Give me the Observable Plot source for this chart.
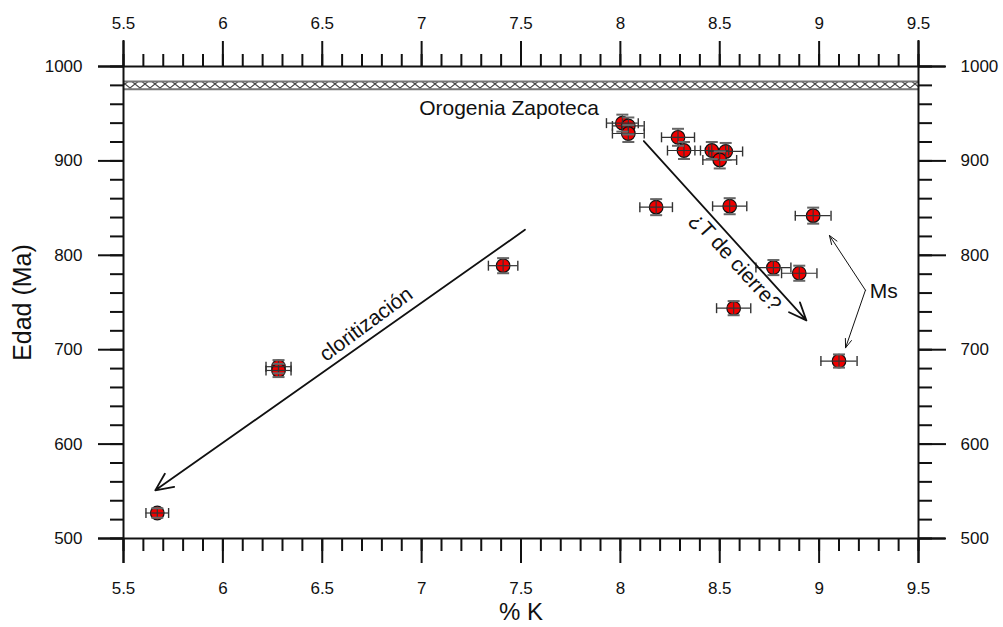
<!DOCTYPE html>
<html>
<head>
<meta charset="utf-8">
<script src="https://cdn.jsdelivr.net/npm/d3@7"></script>
<script src="https://cdn.jsdelivr.net/npm/@observablehq/plot@0.6"></script>
<style>
  html, body { margin: 0; padding: 0; background: #fff; }
  #chart svg { display: block; }
</style>
</head>
<body>
<div id="chart"></div>
<script>
// ---- data ----
const potassium = [5.67, 6.28, 6.28, 7.41, 8.01, 8.04, 8.04, 8.29, 8.32, 8.46, 8.53, 8.50, 8.18, 8.55, 8.97, 8.77, 8.90, 8.57, 9.10];
const edad      = [527, 682, 678, 789, 940, 937, 929, 925, 911, 911, 910, 901, 851, 852, 842, 787, 781, 744, 688];
const potErr    = [0.057, 0.063, 0.063, 0.074, 0.080, 0.080, 0.080, 0.083, 0.083, 0.085, 0.085, 0.085, 0.082, 0.086, 0.090, 0.088, 0.089, 0.086, 0.091];
const edadErr   = [5, 7, 7, 8, 9, 9, 9, 9, 9, 9, 9, 9, 8.5, 8.5, 8.5, 8, 8, 7.5, 7];

const xTicks = [5.5, 6, 6.5, 7, 7.5, 8, 8.5, 9, 9.5];
const yTicks = [500, 600, 700, 800, 900, 1000];
const xMinor = d3.range(55, 96).map(d => d / 10);
const yMinor = d3.range(500, 1001, 20);

const band = [{y1: 976, y2: 984}];

const labels = [
  {x: 7.44, y: 956, t: "Orogenia Zapoteca", r: 0},
  {x: 6.72, y: 727, t: "cloritización", r: -36.5},
  {x: 8.58, y: 793, t: "¿T de cierre?", r: 48},
  {x: 9.325, y: 762, t: "Ms", r: 0}
];
const arrowClor  = [{x1: 7.52, y1: 827, x2: 5.66, y2: 551}];
const arrowCierre = [{x1: 8.118, y1: 921, x2: 8.936, y2: 731}];
const arrowMs = [
  {x1: 9.233, y1: 763, x2: 9.052, y2: 821},
  {x1: 9.233, y1: 763, x2: 9.133, y2: 702}
];

const rows = potassium.map((k, i) => ({k, age: edad[i], ex: potErr[i], ey: edadErr[i]}));

const vbar = {draw(ctx, size) { const r = Math.sqrt(size / Math.PI); ctx.moveTo(0, -r); ctx.lineTo(0, r); }};
const hbar = {draw(ctx, size) { const r = Math.sqrt(size / Math.PI); ctx.moveTo(-r, 0); ctx.lineTo(r, 0); }};

const defsMark = () => {
  const g = d3.create("svg:g");
  const p = g.append("defs").append("pattern")
    .attr("id", "hatch").attr("patternUnits", "userSpaceOnUse")
    .attr("width", 10).attr("height", 8).attr("y", 0);
  p.append("rect").attr("width", 10).attr("height", 8).attr("fill", "#fff");
  p.append("path").attr("d", "M0,0L10,8M10,0L0,8")
    .attr("stroke", "#444").attr("stroke-width", 1.1).attr("fill", "none");
  return g.node();
};

const font = "'Liberation Sans', Arial, Helvetica, sans-serif";

const chart = Plot.plot({
  width: 1003,
  height: 627,
  marginLeft: 123,
  marginRight: 85,
  marginTop: 66,
  marginBottom: 89,
  style: {fontFamily: font, fontSize: "17px", background: "#fff", color: "#111"},
  x: {domain: [5.5, 9.5]},
  y: {domain: [500, 1000]},
  marks: [
    defsMark,
    // hatched band
    Plot.rect(band, {y1: "y1", y2: "y2", fill: "url(#hatch)"}),
    Plot.ruleY([band[0].y1, band[0].y2], {stroke: "#777", strokeWidth: 2}),
    // minor ticks
    Plot.axisX(xMinor, {anchor: "bottom", tickSize: 13, tickFormat: () => "", strokeWidth: 2, label: null}),
    Plot.axisX(xMinor, {anchor: "top", tickSize: 13, tickFormat: () => "", strokeWidth: 2, label: null}),
    Plot.axisY(yMinor, {anchor: "left", tickSize: 13, tickFormat: () => "", strokeWidth: 2, label: null}),
    Plot.axisY(yMinor, {anchor: "right", tickSize: 13, tickFormat: () => "", strokeWidth: 2, label: null}),
    // major ticks
    Plot.axisX(xTicks, {anchor: "bottom", tickSize: 25, tickPadding: 18, tickFormat: d => String(d), fontSize: 17, strokeWidth: 2, label: null}),
    Plot.axisX(xTicks, {anchor: "top", tickSize: 26, tickPadding: 12, tickFormat: d => String(d), fontSize: 17, strokeWidth: 2, label: null}),
    Plot.axisY(yTicks, {anchor: "left", tickSize: 25, tickPadding: 16, tickFormat: d => String(d), fontSize: 17, strokeWidth: 2, label: null}),
    Plot.axisY(yTicks, {anchor: "right", tickSize: 27, tickPadding: 15, tickFormat: d => String(d), fontSize: 17, strokeWidth: 2, label: null}),
    // axis lines extended
    Plot.ruleY([500, 1000], {insetLeft: -25, insetRight: -27, strokeWidth: 2, stroke: "#111"}),
    Plot.ruleX([5.5, 9.5], {insetTop: -26, insetBottom: -25, strokeWidth: 2, stroke: "#111"}),
    // axis titles
    Plot.text(["% K"], {frameAnchor: "bottom", lineAnchor: "middle", dy: 74, fontSize: 24, fill: "#111"}),
    Plot.text(["Edad (Ma)"], {frameAnchor: "left", textAnchor: "middle", lineAnchor: "middle", dx: -101, rotate: -90, fontSize: 25, fill: "#111"}),
    // points
    Plot.dot(rows, {x: "k", y: "age", r: 6.8, fill: "#f00000", stroke: "#111", strokeWidth: 1.2}),
    Plot.ruleY(rows, {y: "age", x1: d => d.k - d.ex, x2: d => d.k + d.ex, stroke: "#333", strokeWidth: 1.2}),
    Plot.ruleX(rows, {x: "k", y1: d => d.age - d.ey, y2: d => d.age + d.ey, stroke: "#333", strokeWidth: 1.2}),
    Plot.dot(rows, {x: d => d.k - d.ex, y: "age", symbol: vbar, r: 5, fill: "none", stroke: "#333", strokeWidth: 1.4}),
    Plot.dot(rows, {x: d => d.k + d.ex, y: "age", symbol: vbar, r: 5, fill: "none", stroke: "#333", strokeWidth: 1.4}),
    Plot.dot(rows, {x: "k", y: d => d.age - d.ey, symbol: hbar, r: 6, fill: "none", stroke: "#666", strokeWidth: 2}),
    Plot.dot(rows, {x: "k", y: d => d.age + d.ey, symbol: hbar, r: 6, fill: "none", stroke: "#666", strokeWidth: 2}),
    // arrows
    Plot.arrow(arrowClor, {x1: "x1", y1: "y1", x2: "x2", y2: "y2", stroke: "#111", strokeWidth: 1.8, headLength: 16, headAngle: 50}),
    Plot.arrow(arrowCierre, {x1: "x1", y1: "y1", x2: "x2", y2: "y2", stroke: "#111", strokeWidth: 1.8, headLength: 16, headAngle: 45}),
    Plot.arrow(arrowMs, {x1: "x1", y1: "y1", x2: "x2", y2: "y2", stroke: "#111", strokeWidth: 1, headLength: 14, headAngle: 40}),
    // labels
    Plot.text(labels, {x: "x", y: "y", text: "t", rotate: "r", fontSize: 21, fill: "#111"})
  ]
});
document.getElementById("chart").append(chart);
</script>
</body>
</html>
